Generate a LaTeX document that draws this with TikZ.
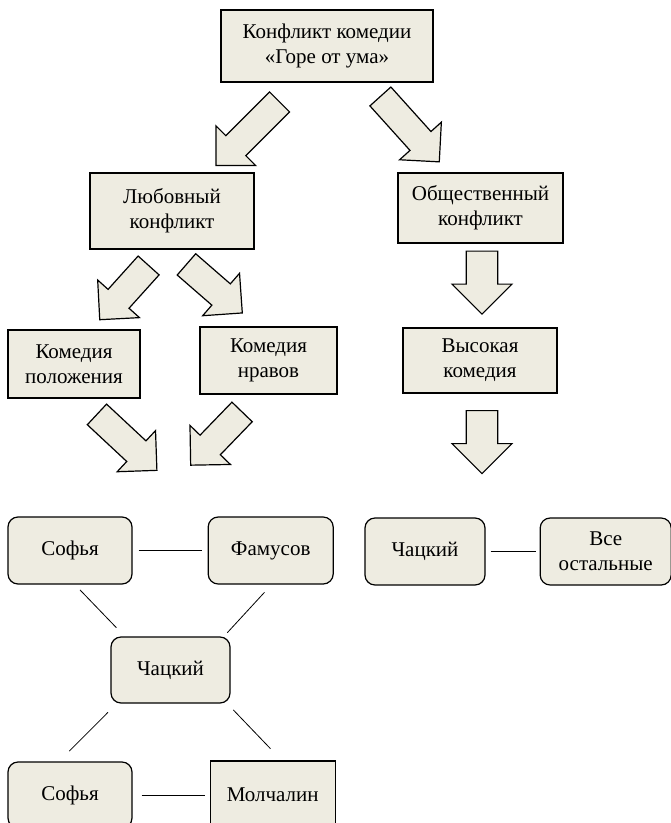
\documentclass[tikz,border=0pt]{standalone}
\usepackage{fontspec}
\setmainfont{Liberation Serif}
\usetikzlibrary{positioning,shapes.arrows}
\definecolor{beige}{HTML}{EEECE1}
\begin{document}
\begin{tikzpicture}[x=1pt,y=-1pt,
	font=\fontsize{21}{25}\selectfont,
	box/.style={draw, fill=beige, line width=1.2pt, align=center, inner sep=0pt},
	rbox/.style={box, rounded corners=10pt},
	barrow/.style={single arrow, draw, fill=beige, line width=1.2pt, inner xsep=0pt, inner ysep=13.5pt,
		single arrow head extend=14pt, single arrow tip angle=90, anchor=tail},
	link/.style={line width=0.8pt}]
	\useasboundingbox (0,0) rectangle (671,823);
	% boxes
	\node (k0) [box, minimum width=212pt, minimum height=72pt] at (327,46) {Конфликт комедии\\«Горе от ума»};
	\node (k1) [box, minimum width=164pt, minimum height=76pt] at (172,211) {Любовный\\конфликт};
	\node (k2) [box, minimum width=165pt, minimum height=70pt] at (480.5,208) {Общественный\\конфликт};
	\node (k3) [box, minimum width=132pt, minimum height=68pt] at (74,364) {Комедия\\положения};
	\node (k4) [box, minimum width=137pt, minimum height=67pt] at (268.5,360.5) {Комедия\\нравов};
	\node (k5) [box, minimum width=154pt, minimum height=65pt] at (480,360.5) {Высокая\\комедия};
	\node (s1) [rbox, minimum width=124pt, minimum height=67pt] at (70,550.5) {Софья};
	\node (f1) [rbox, minimum width=125pt, minimum height=67pt, right=75pt of s1] {Фамусов};
	\node (c1) [rbox, minimum width=119pt, minimum height=66pt] at (170.5,670) {Чацкий};
	\node (s2) [rbox, minimum width=124pt, minimum height=66pt] at (70,795) {Софья};
	\node (m1) [box, minimum width=125pt, minimum height=68pt, right=77pt of s2] {Молчалин};
	\node (c2) [rbox, minimum width=120pt, minimum height=67pt] at (425,551.5) {Чацкий};
	\node (v1) [rbox, minimum width=131pt, minimum height=67pt, right=54pt of c2] {Все\\остальные};
	% block arrows
	\node (ar1) [barrow, rotate=-135, minimum height=90pt, minimum width=56pt] at (280,101.5) {};
	\node (ar2) [barrow, rotate=-48, minimum height=88pt, minimum width=56pt] at (380,96) {};
	\node (ar3) [barrow, rotate=-132, minimum height=73pt, minimum width=55pt] at (149,265) {};
	\node (ar4) [barrow, rotate=-41, minimum height=74pt, minimum width=55pt] at (186,264) {};
	\node (ar5) [barrow, rotate=-43, minimum height=82pt, minimum width=55pt] at (96.5,414) {};
	\node (ar6) [barrow, rotate=-134, minimum height=74pt, minimum width=55pt] at (242.5,411.5) {};
	\node (ar7) [barrow, rotate=-90, inner ysep=15pt, minimum height=63pt, minimum width=60pt] at (482,250.5) {};
	\node (ar8) [barrow, rotate=-90, inner ysep=15pt, minimum height=63pt, minimum width=60pt] at (482,410) {};
	% links
	\draw[link, shorten <=6pt, shorten >=6pt] (s1) -- (f1);
	\draw[link] ([shift={(10,5.3)}]s1.south) -- ([shift={(6,-8.7)}]c1.north west);
	\draw[link] ([shift={(-6.2,7.7)}]f1.south) -- ([shift={(-3.3,-3.7)}]c1.north east);
	\draw[link] ([shift={(-2.4,8.7)}]c1.south west) -- ([shift={(-0.7,-10.3)}]s2.north);
	\draw[link] ([shift={(2.7,6.3)}]c1.south east) -- ([shift={(-2.2,-11.7)}]m1.north);
	\draw[link, shorten <=9pt, shorten >=5pt] (s2) -- (m1);
	\draw[link, shorten <=5pt, shorten >=4pt] (c2) -- (v1);
\end{tikzpicture}
\end{document}
